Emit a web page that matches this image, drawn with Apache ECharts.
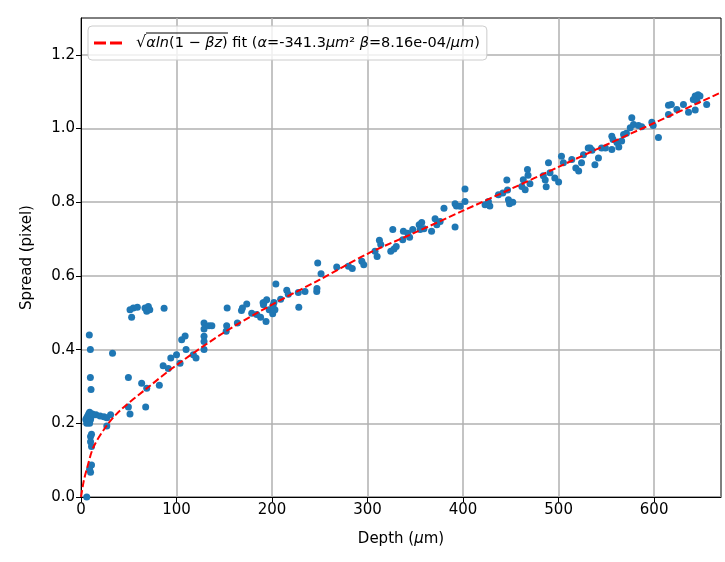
<!DOCTYPE html>
<html>
<head>
<meta charset="utf-8">
<script src="https://cdn.jsdelivr.net/npm/echarts@6/dist/echarts.min.js"></script>
<style>
  html, body { margin: 0; padding: 0; background: #fff; }
  #chart { width: 725px; height: 562px; }
</style>
</head>
<body>
<div id="chart"></div>
<script>
// measured points (depth in um, spread in pixel)
const depth = [
  8.7, 9.8, 9.8, 10.5, 5, 6, 7, 8, 9, 10, 11, 7, 9, 12, 6,
  15.7, 20, 24, 27, 31, 27, 33, 10, 10, 11, 11, 10, 6, 9, 11,
  51.3, 54.8, 59, 53, 67, 70.5, 68.8, 72, 87, 49.6, 49.6, 51.3, 63.5, 68.8, 67.7, 82,
  86, 91.4, 94, 100, 103.7, 105.4, 109, 110, 117.6, 120.4, 128.8, 128.8, 128.8, 128.8, 128.8, 134,
  137, 153, 152.5, 152, 163.7, 168, 169, 173.5, 178.7, 184, 188, 191, 191.5, 194.4, 193.7,
  197, 200.7, 203, 202, 204, 209, 215.4, 217, 227.5, 228, 234.5, 246.8, 247, 247.8, 251.3,
  190.6, 201, 267.7, 280, 284, 294, 296, 307.8, 310, 312.4, 313.8, 324.3, 326.4, 327.7, 330,
  336.8, 337.5, 342, 344, 347.3, 354, 356.7, 355, 359, 367, 370.7, 372.5, 376, 380,
  391.6, 391.6, 393, 397, 402, 402, 423, 426.5, 428, 437, 441.6, 445.8, 446.5, 447.5, 448.6,
  452, 461.5, 463, 465, 467.4, 468, 470, 484, 486, 487, 489.4, 491, 496, 500, 503, 505,
  513.8, 518, 521, 524, 526, 531, 533, 535, 538, 541.7, 545, 549, 555.7, 555.7, 557, 561,
  563, 566, 568, 571, 575, 576.6, 578.4, 583.6, 587, 597.6, 599, 604.5, 615, 615, 618,
  623.8, 630.7, 636, 641, 643, 644.7, 646, 648, 643, 655
];
const spread = [
  0.44, 0.40, 0.324, 0.292, 0.21, 0.215, 0.22, 0.225, 0.23, 0.21, 0.22, 0.205, 0.2, 0.225, 0.2,
  0.223, 0.22, 0.218, 0.215, 0.223, 0.193, 0.39, 0.164, 0.15, 0.137, 0.087, 0.067, 0.0, 0.075, 0.17,
  0.508, 0.513, 0.515, 0.488, 0.513, 0.517, 0.504, 0.508, 0.512, 0.324, 0.244, 0.225, 0.309, 0.295, 0.244, 0.303,
  0.356, 0.349, 0.377, 0.386, 0.363, 0.427, 0.437, 0.40, 0.386, 0.377, 0.472, 0.456, 0.436, 0.422, 0.40, 0.465,
  0.465, 0.513, 0.465, 0.45, 0.472, 0.506, 0.513, 0.524, 0.499, 0.495, 0.488, 0.522, 0.527, 0.535, 0.476,
  0.508, 0.497, 0.508, 0.528, 0.578, 0.537, 0.561, 0.55, 0.555, 0.515, 0.558, 0.558, 0.566, 0.635, 0.606,
  0.527, 0.52, 0.624, 0.626, 0.62, 0.64, 0.63, 0.667, 0.653, 0.697, 0.685, 0.667, 0.726, 0.673, 0.68,
  0.698, 0.721, 0.716, 0.705, 0.726, 0.739, 0.745, 0.726, 0.728, 0.721, 0.755, 0.739, 0.748, 0.784,
  0.796, 0.733, 0.79, 0.789, 0.802, 0.836, 0.793, 0.802, 0.79, 0.82, 0.825, 0.86, 0.833, 0.807, 0.796,
  0.80, 0.843, 0.861, 0.834, 0.889, 0.873, 0.85, 0.872, 0.86, 0.842, 0.907, 0.88, 0.866, 0.855, 0.925, 0.907,
  0.916, 0.893, 0.885, 0.907, 0.929, 0.947, 0.947, 0.941, 0.902, 0.92, 0.947, 0.947, 0.943, 0.979, 0.97, 0.962,
  0.95, 0.966, 0.984, 0.987, 1.002, 1.029, 1.011, 1.008, 1.005, 1.017, 1.008, 0.976, 1.038, 1.063, 1.065,
  1.052, 1.065, 1.044, 1.079, 1.088, 1.075, 1.092, 1.088, 1.05, 1.065
];
// fit curve
const fitDepth = [0, 3, 6, 13, 27, 41, 69, 100, 150, 200, 250, 300, 350, 400, 450, 500, 550, 600, 650, 670];
const fitSpread = [0, 0.045, 0.075, 0.135, 0.194, 0.235, 0.295, 0.358, 0.447, 0.522, 0.59, 0.66, 0.718, 0.777, 0.836, 0.896, 0.956, 1.015, 1.074, 1.098];

const xTicks = [0, 100, 200, 300, 400, 500, 600];
const yTicks = [0, 0.2, 0.4, 0.6, 0.8, 1.0, 1.2];

const chart = echarts.init(document.getElementById('chart'));
const font = 'DejaVu Sans';
const fitName = 'fit';

chart.setOption({
  animation: false,
  textStyle: { fontFamily: font },
  grid: {
    left: 81, top: 18, right: 4, bottom: 65,
    show: true, borderColor: '#000', borderWidth: 1, backgroundColor: 'transparent'
  },
  legend: {
    left: 88, top: 26,
    data: [{ name: fitName, icon: 'path://M0,0h12v3h-12z M16,0h12v3h-12z' }],
    itemWidth: 28, itemHeight: 3,
    padding: [9, 7, 9, 6],
    backgroundColor: 'rgba(255,255,255,0.8)',
    borderColor: '#cccccc', borderWidth: 1, borderRadius: 4,
    itemStyle: { color: '#ff0000' },
    formatter: () => '{s|√}{i|αln}(1 − {i|βz}) fit ({i|α}=-341.3{i|μm}² {i|β}=8.16e-04/{i|μm})',
    textStyle: {
      fontFamily: font, fontSize: 14.5, color: '#000', padding: [0, 0, 0, 9],
      rich: {
        s: { fontFamily: font, fontSize: 16, color: '#000' },
        i: { fontFamily: font, fontSize: 14.5, fontStyle: 'italic', color: '#000' }
      }
    }
  },
  // overline of the square root sign in the legend label
  graphic: [{
    type: 'line', z: 100,
    shape: { x1: 146, y1: 33, x2: 228, y2: 33 },
    style: { stroke: '#000', lineWidth: 1 }
  }],
  xAxis: {
    type: 'value', min: 0, max: 670, interval: 100,
    name: 'Depth ({i|μ}m)', nameLocation: 'middle', nameGap: 35,
    nameTextStyle: { fontSize: 15, color: '#000', rich: { i: { fontSize: 15, fontStyle: 'italic', color: '#000' } } },
    axisLine: { show: true, lineStyle: { color: '#000', width: 1 } },
    axisTick: { show: true, length: 5, lineStyle: { color: '#000' }, customValues: xTicks },
    axisLabel: { fontSize: 15, color: '#000', margin: 6, customValues: xTicks },
    splitLine: { show: true, lineStyle: { color: '#b0b0b0', width: 1.5 } }
  },
  yAxis: {
    type: 'value', min: 0, max: 1.3, interval: 0.2,
    name: 'Spread (pixel)', nameLocation: 'middle', nameGap: 46,
    nameTextStyle: { fontSize: 15, color: '#000' },
    axisLine: { show: true, lineStyle: { color: '#000', width: 1 } },
    axisTick: { show: true, length: 5, lineStyle: { color: '#000' }, customValues: yTicks },
    axisLabel: { fontSize: 15, color: '#000', margin: 6, customValues: yTicks, formatter: v => v.toFixed(1) },
    splitLine: { show: true, lineStyle: { color: '#b0b0b0', width: 1.5 } }
  },
  series: [
    {
      type: 'scatter',
      name: 'data',
      data: depth.map((d, i) => [d, spread[i]]),
      symbolSize: 7,
      itemStyle: { color: '#1f77b4', opacity: 1 },
      z: 2
    },
    {
      type: 'line',
      name: fitName,
      data: fitDepth.map((d, i) => [d, fitSpread[i]]),
      smooth: 0.3,
      showSymbol: false,
      symbol: 'none',
      lineStyle: { color: '#ff0000', width: 2, type: [7, 3] },
      itemStyle: { color: '#ff0000' },
      z: 3
    }
  ]
});
</script>
</body>
</html>
